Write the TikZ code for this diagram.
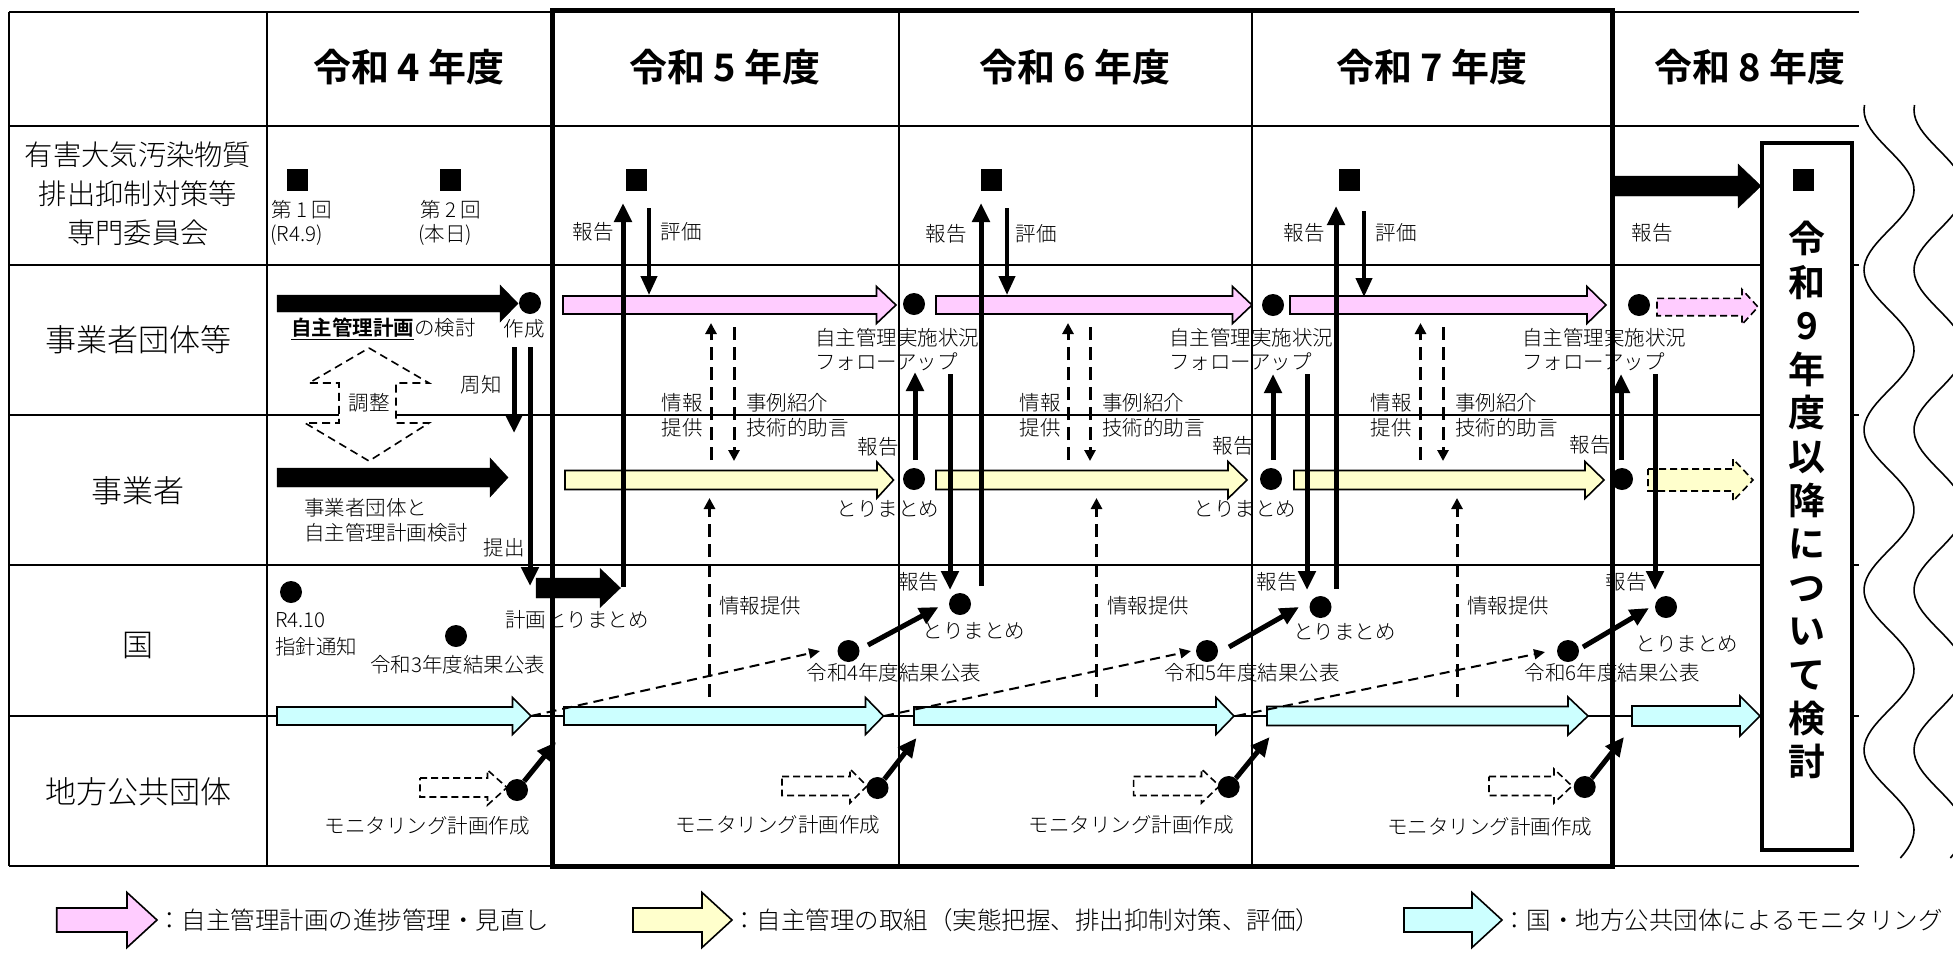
\documentclass[tikz,border=0pt]{standalone}
\usepackage{fontspec}
\IfFontExistsTF{Noto Sans CJK JP Light}{%
  \IfFontExistsTF{Noto Sans CJK JP Bold}{%
    \setmainfont{Noto Sans CJK JP Light}[BoldFont={Noto Sans CJK JP Bold}]}{%
    \setmainfont{Noto Sans CJK JP}}}{%
  \setmainfont{Noto Sans CJK JP}}
\usetikzlibrary{arrows.meta}
\definecolor{pk}{HTML}{FFCCFF}
\definecolor{yl}{HTML}{FFFFCC}
\definecolor{cy}{HTML}{CCFFFF}
% #1 style, #2 x start, #3 x tip, #4 y centre, #5 shaft half, #6 head half, #7 head length
\newcommand{\blockarr}[7]{%
  \draw[#1] ({#2},{#4-#5}) -- ({#3-#7},{#4-#5}) -- ({#3-#7},{#4-#6}) -- ({#3},{#4})
    -- ({#3-#7},{#4+#6}) -- ({#3-#7},{#4+#5}) -- ({#2},{#4+#5}) -- cycle;}
\tikzset{
  gridln/.style={line width=1.8pt},
  lbl/.style={font=\fontsize{20.5}{25}\selectfont, inner sep=0pt},
  lgd/.style={font=\fontsize{24.5}{28}\selectfont, inner sep=0pt, anchor=west},
  rowlbl/.style={font=\fontsize{31}{38}\selectfont, inner sep=0pt, align=center},
  hdr/.style={font=\fontsize{38}{40}\selectfont\bfseries, inner sep=0pt},
  dot/.style={circle, fill=black, minimum size=22pt, inner sep=0pt},
  sq/.style={fill=black, minimum width=21pt, minimum height=22pt, inner sep=0pt},
  thk/.style={line width=5pt, -{Triangle[width=17pt,length=19pt]}},
  thkb/.style={line width=4pt, -{Triangle[width=16pt,length=19pt]}},
  dsharr/.style={line width=3pt, dash pattern=on 13pt off 7pt, -{Triangle[width=11pt,length=11pt]}},
  thinarr/.style={line width=2pt, dash pattern=on 10pt off 6pt, -{Triangle[width=10pt,length=11pt]}},
  pkst/.style={draw=black, line width=1.6pt, fill=pk},
  ylst/.style={draw=black, line width=1.6pt, fill=yl},
  cyst/.style={draw=black, line width=1.6pt, fill=cy},
  blkst/.style={fill=black},
  dsho/.style={draw=black, line width=1.6pt, fill=white, dash pattern=on 7pt off 4pt},
  pdsh/.style={draw=black, line width=1.6pt, dash pattern=on 7pt off 4pt},
}
\begin{document}
\begin{tikzpicture}[x=1pt,y=-1pt]
\useasboundingbox (0,0) rectangle (1953,954);
\fill[white] (0,0) rectangle (1953,954);

% ---------- table grid ----------
\foreach \yy in {12,126,265,415,565,716,866} \draw[gridln] (9,\yy) -- (1859,\yy);
\foreach \xx in {9,267,899,1252} \draw[gridln] (\xx,12) -- (\xx,866);
\draw[line width=5pt] (552,10) rectangle (1612,866);

% ---------- wavy lines ----------
\draw[line width=1.6pt] plot[domain=105:858, samples=160, variable=\t] ({1889-25*cos(2.25*(\t-110))}, \t);
\draw[line width=1.6pt] plot[domain=105:858, samples=160, variable=\t] ({1939-25*cos(2.25*(\t-110))}, \t);

% ---------- box R9 ----------
\draw[line width=4.5pt, fill=white] (1762,143) rectangle (1852,850);
\node[font=\fontsize{37}{43.6}\selectfont\bfseries, inner sep=0pt, align=center] (r9) at (1807,500)
  {令\\和\\9\\年\\度\\以\\降\\に\\つ\\い\\て\\検\\討};

% ---------- headers ----------
\node[hdr] (h4) at (409,67) {令和 4 年度};
\node[hdr] (h5) at (725,67) {令和 5 年度};
\node[hdr] (h6) at (1075,67) {令和 6 年度};
\node[hdr] (h7) at (1432,67) {令和 7 年度};
\node[hdr] (h8) at (1750,67) {令和 8 年度};

% ---------- row labels ----------
\node[rowlbl, font=\fontsize{28.3}{39}\selectfont] (rw1) at (138,194) {有害大気汚染物質\\排出抑制対策等\\専門委員会};
\node[rowlbl] (rw2) at (138,340) {事業者団体等};
\node[rowlbl] (rw3) at (138,491) {事業者};
\node[rowlbl] (rw4) at (138,645) {国};
\node[rowlbl] (rw5) at (138,792) {地方公共団体};

% ---------- block arrows ----------
\blockarr{pkst}{563}{896}{305}{9}{18.5}{19.5}
\blockarr{pkst}{936}{1252}{305}{9}{18.5}{19.5}
\blockarr{pkst}{1290}{1606}{305}{9}{18.5}{19}
\blockarr{pkst,pdsh}{1657}{1758}{307}{8.7}{17.5}{16}
\blockarr{ylst}{565}{893.5}{480}{9.5}{18}{16.5}
\blockarr{ylst}{936}{1247}{480}{9.5}{18.5}{19}
\blockarr{ylst}{1294}{1604}{480}{9.5}{18.5}{19}
\blockarr{ylst,pdsh}{1648}{1753}{480}{11}{21}{20}
\blockarr{cyst}{277}{531}{716}{9}{18.5}{18.5}
\blockarr{cyst}{564}{883.5}{716}{9}{18.5}{18}
\blockarr{cyst}{914}{1234}{716}{9}{18.5}{18}
\blockarr{cyst}{1267}{1588}{716}{9.5}{19}{20}
\blockarr{cyst}{1632}{1760}{716}{10}{20}{20}
\blockarr{blkst}{277}{518}{303.5}{8.5}{18.5}{18}
\blockarr{blkst}{277}{508}{477.5}{9.5}{19.5}{18}
\blockarr{blkst}{536}{620.5}{588}{10}{19.5}{20.5}
\blockarr{blkst}{1612}{1761}{186}{10}{22}{23}
\blockarr{dsho}{420}{507}{787.5}{9.5}{17.5}{19.5}
\blockarr{dsho}{782}{867}{786}{9.5}{17}{17}
\blockarr{dsho}{1133.6}{1219.5}{786}{9.5}{17}{18}
\blockarr{dsho}{1489}{1572}{786}{9.5}{17}{18}

% adjustment double arrow
\draw[line width=1.6pt, dash pattern=on 8pt off 5pt, fill=white]
  (369,348) -- (429,383) -- (396,383) -- (396,423) -- (429,423) -- (369,461)
  -- (305,423) -- (339,423) -- (339,383) -- (309,383) -- cycle;
\node[lbl] (lch) at (369,403) {調整};

% ---------- squares ----------
\node[sq] (s1) at (297.5,180) {};
\node[sq] (s2) at (450,180) {};
\node[sq] (s3) at (636.5,180) {};
\node[sq] (s4) at (991,180) {};
\node[sq] (s5) at (1349.5,180) {};
\node[sq] (s6) at (1803.5,180) {};

% ---------- dots ----------
\node[dot] (a1) at (530,303) {};
\node[dot] (a2) at (914,304) {};
\node[dot] (a3) at (1273,305) {};
\node[dot] (a4) at (1639,305) {};
\node[dot] (b1) at (914,479) {};
\node[dot] (b2) at (1271,479) {};
\node[dot] (b3) at (1622,479) {};
\node[dot] (k0) at (291,592) {};
\node[dot] (k3) at (456,636) {};
\node[dot] (c1) at (960,604) {};
\node[dot] (c2) at (1320.5,607) {};
\node[dot] (c3) at (1666,607) {};
\node[dot] (p4) at (848.5,651) {};
\node[dot] (p5) at (1207,651) {};
\node[dot] (p6) at (1568,651) {};
\node[dot] (m1) at (517,790) {};
\node[dot] (m2) at (877.5,788) {};
\node[dot] (m3) at (1228.7,787) {};
\node[dot] (m4) at (1584.7,787) {};

% ---------- coordinates for free ends ----------
\coordinate (sh1) at (514,347);  \coordinate (sh2) at (514,433);
\coordinate (te1) at (530,347);  \coordinate (te2) at (530,586);
\coordinate (u51) at (623,587);  \coordinate (u52) at (623,203);
\coordinate (d51) at (649,208);  \coordinate (d52) at (649,295);
\coordinate (u61) at (981,586);  \coordinate (u62) at (981,203);
\coordinate (d61) at (1007,208); \coordinate (d62) at (1007,295);
\coordinate (u71) at (1336,589); \coordinate (u72) at (1336,206);
\coordinate (d71) at (1364,211); \coordinate (d72) at (1364,297);
\coordinate (e51) at (915,460);  \coordinate (e52) at (915,372);
\coordinate (e61) at (1273,460); \coordinate (e62) at (1273,374);
\coordinate (e71) at (1621,460); \coordinate (e72) at (1621,374);
\coordinate (f51) at (950,374);  \coordinate (f52) at (950,590);
\coordinate (f61) at (1307,374); \coordinate (f62) at (1307,590);
\coordinate (f71) at (1655,374); \coordinate (f72) at (1655,590);
\coordinate (q1s) at (868,645);  \coordinate (q1e) at (938.5,607);
\coordinate (q2s) at (1229,647); \coordinate (q2e) at (1299,607);
\coordinate (q3s) at (1583,647); \coordinate (q3e) at (1649,608);
\coordinate (mt1) at (556,742);  \coordinate (mt2) at (916.5,738);
\coordinate (mt3) at (1269.6,737); \coordinate (mt4) at (1624,737);
\coordinate (g51) at (711,460);  \coordinate (g52) at (711,323);
\coordinate (j51) at (734,327);  \coordinate (j52) at (734,461);
\coordinate (g61) at (1068,460); \coordinate (g62) at (1068,323);
\coordinate (j61) at (1090,327); \coordinate (j62) at (1090,461);
\coordinate (g71) at (1420.5,460); \coordinate (g72) at (1420.5,323);
\coordinate (j71) at (1443,327); \coordinate (j72) at (1443,461);
\coordinate (i51) at (709.5,697); \coordinate (i52) at (709.5,498);
\coordinate (i61) at (1096.5,697); \coordinate (i62) at (1096.5,498);
\coordinate (i71) at (1457,697); \coordinate (i72) at (1457,498);
\coordinate (w1s) at (531,716);  \coordinate (w1e) at (820,651);
\coordinate (w2s) at (884,716);  \coordinate (w2e) at (1191,651);
\coordinate (w3s) at (1236,716); \coordinate (w3e) at (1545,652);

% ---------- connectors ----------
\draw[thk] (sh1) -- (sh2);
\draw[thk] (te1) -- (te2);
\draw[thk] (u51) -- (u52);
\draw[thkb] (d51) -- (d52);
\draw[thk] (u61) -- (u62);
\draw[thkb] (d61) -- (d62);
\draw[thk] (u71) -- (u72);
\draw[thkb] (d71) -- (d72);
\draw[thk] (e51) -- (e52);
\draw[thk] (e61) -- (e62);
\draw[thk] (e71) -- (e72);
\draw[thk] (f51) -- (f52);
\draw[thk] (f61) -- (f62);
\draw[thk] (f71) -- (f72);
\draw[thk] (q1s) -- (q1e);
\draw[thk] (q2s) -- (q2e);
\draw[thk] (q3s) -- (q3e);
\draw[thk] (m1) -- (mt1);
\draw[thk] (m2) -- (mt2);
\draw[thk] (m3) -- (mt3);
\draw[thk] (m4) -- (mt4);
\draw[dsharr] (g51) -- (g52);
\draw[dsharr] (j51) -- (j52);
\draw[dsharr] (g61) -- (g62);
\draw[dsharr] (j61) -- (j62);
\draw[dsharr] (g71) -- (g72);
\draw[dsharr] (j71) -- (j72);
\draw[dsharr] (i51) -- (i52);
\draw[dsharr] (i61) -- (i62);
\draw[dsharr] (i71) -- (i72);
\draw[thinarr] (w1s) -- (w1e);
\draw[thinarr] (w2s) -- (w2e);
\draw[thinarr] (w3s) -- (w3e);

% ---------- labels ----------
\node[lbl, anchor=west] (t01) at (271,210) {第 1 回};
\node[lbl, anchor=west] (t02) at (270,235) {(R4.9)};
\node[lbl, anchor=west] (t03) at (420,210) {第 2 回};
\node[lbl, anchor=west] (t04) at (418,235) {(本日)};
\node[lbl] (t05) at (593,232) {報告};
\node[lbl] (t06) at (681,232) {評価};
\node[lbl] (t07) at (946,234) {報告};
\node[lbl] (t08) at (1036,234) {評価};
\node[lbl] (t09) at (1304,233) {報告};
\node[lbl] (t10) at (1396,233) {評価};
\node[lbl] (t11) at (1652,233) {報告};
\node[lbl, anchor=west] (t12) at (291,329) {\underline{\textbf{自主管理計画}}の検討};
\node[lbl] (t13) at (524,329) {作成};
\node[lbl] (t14) at (481,385) {周知};
\node[lbl] (t15) at (504,548) {提出};
\node[lbl, anchor=west, align=left] (t16) at (304,520) {事業者団体と\\自主管理計画検討};
\node[lbl, anchor=west, align=left, font=\fontsize{20.5}{24}\selectfont] (t17) at (815,350) {自主管理実施状況\\フォローアップ};
\node[lbl, anchor=west, align=left, font=\fontsize{20.5}{24}\selectfont] (t18) at (1169,350) {自主管理実施状況\\フォローアップ};
\node[lbl, anchor=west, align=left, font=\fontsize{20.5}{24}\selectfont] (t19) at (1522,350) {自主管理実施状況\\フォローアップ};
\node[lbl, align=center] (t20) at (682,415) {情報\\提供};
\node[lbl, align=center] (t21) at (1040,415) {情報\\提供};
\node[lbl, align=center] (t22) at (1391,415) {情報\\提供};
\node[lbl, anchor=west, align=left] (t23) at (746,415) {事例紹介\\技術的助言};
\node[lbl, anchor=west, align=left] (t24) at (1102,415) {事例紹介\\技術的助言};
\node[lbl, anchor=west, align=left] (t25) at (1455,415) {事例紹介\\技術的助言};
\node[lbl] (t26) at (878,447) {報告};
\node[lbl] (t27) at (1233,446) {報告};
\node[lbl] (t28) at (1590,445) {報告};
\node[lbl] (t29) at (888,509) {とりまとめ};
\node[lbl] (t30) at (1245,509) {とりまとめ};
\node[lbl] (t31) at (918.5,582) {報告};
\node[lbl] (t32) at (1277,582) {報告};
\node[lbl] (t33) at (1626,582) {報告};
\node[lbl] (t34) at (974,631) {とりまとめ};
\node[lbl] (t35) at (1344.6,632) {とりまとめ};
\node[lbl] (t36) at (1687,644) {とりまとめ};
\node[lbl] (t37) at (894,673) {令和4年度結果公表};
\node[lbl] (t38) at (1252,673) {令和5年度結果公表};
\node[lbl] (t39) at (1612,673) {令和6年度結果公表};
\node[lbl, anchor=west] (t40) at (719,606) {情報提供};
\node[lbl, anchor=west] (t41) at (1107,606) {情報提供};
\node[lbl, anchor=west] (t42) at (1467,606) {情報提供};
\node[lbl] (t43) at (577,620) {計画とりまとめ};
\node[lbl, anchor=west] (t44) at (275,620) {R4.10};
\node[lbl, anchor=west] (t45) at (275,647) {指針通知};
\node[lbl] (t46) at (457.6,665) {令和3年度結果公表};
\node[lbl] (t47) at (427,826) {モニタリング計画作成};
\node[lbl] (t48) at (777.6,825) {モニタリング計画作成};
\node[lbl] (t49) at (1131,825) {モニタリング計画作成};
\node[lbl] (t50) at (1489.7,827) {モニタリング計画作成};

% ---------- legend ----------
\blockarr{pkst}{56.7}{157}{920}{12}{27.5}{30}
\blockarr{ylst}{633}{732}{920}{12}{27.5}{30}
\blockarr{cyst}{1404}{1502}{920}{12}{27.5}{30}
\node[lgd] (lg1) at (157,920) {：自主管理計画の進捗管理・見直し};
\node[lgd] (lg2) at (732,920) {：自主管理の取組（実態把握、排出抑制対策、評価）};
\node[lgd] (lg3) at (1502,920) {：国・地方公共団体によるモニタリング};
\end{tikzpicture}
\end{document}
